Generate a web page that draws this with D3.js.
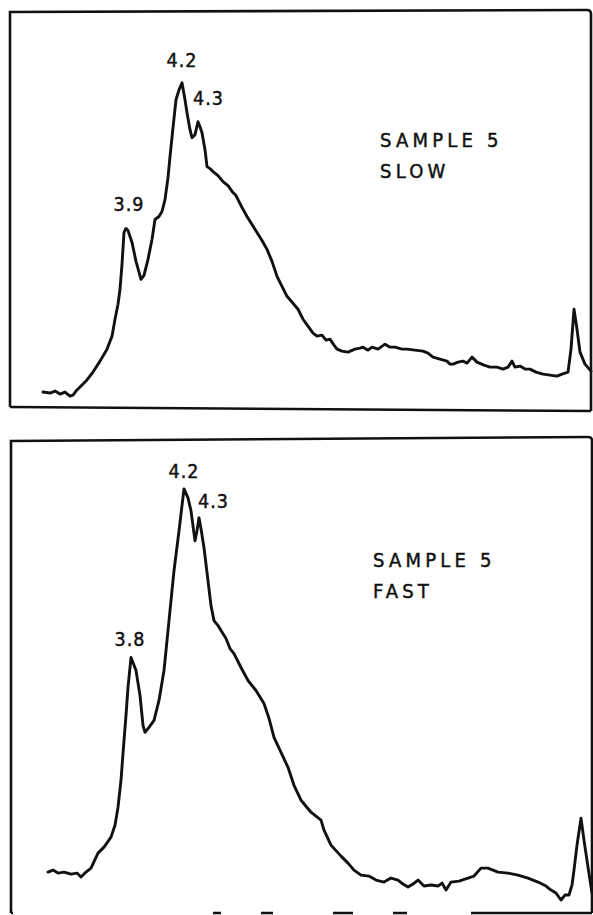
<!DOCTYPE html>
<html>
<head>
<meta charset="utf-8">
<script src="https://cdn.jsdelivr.net/npm/d3@7"></script>
<style>
  html, body { margin: 0; padding: 0; background: #fff; }
  svg { display: block; }
  text { font-family: "DejaVu Sans Condensed", "DejaVu Sans", sans-serif; fill: #111; stroke: #111; stroke-width: 0.45; }
</style>
</head>
<body>
<svg id="chart" width="593" height="915"></svg>
<script>
// ---- Data (chart-recorder readings: x = travel in cm, y = deflection in cm) ----
const slowX = [3.3,4.0,4.5,5.0,5.5,6.0,6.3,6.6,7.0,7.6,8.3,9.0,9.7,10.2,10.5,10.8,11.0,11.2,11.4,11.6,11.8,12.2,12.6,13.1,13.4,13.8,14.2,14.5,14.9,15.2,15.5,15.8,16.0,16.3,16.6,16.9,17.2,17.5,17.7,18.0,18.2,18.5,18.8,19.0,19.2,19.5,19.7,20.0,20.3,20.8,21.3,21.8,22.3,22.6,22.8,23.2,23.7,24.2,24.7,25.2,25.7,26.2,26.7,27.2,27.7,28.3,28.8,29.3,29.8,30.3,30.7,31.2,31.6,32.0,32.4,32.7,33.2,33.8,34.5,35.0,35.3,35.8,36.2,36.8,37.5,38.0,38.5,39.2,39.7,40.5,41.3,41.8,42.3,43.0,43.7,44.0,44.3,44.8,45.3,45.7,46.2,46.7,47.4,48.0,48.7,49.3,49.8,50.2,50.5,51.0,51.5,52.0,52.6,53.3,54.0,54.7,55.2,55.8,56.1,56.4,56.7,57.0,57.5,58.1];
const slowY = [1.5,1.4,1.6,1.3,1.5,1.1,1.2,1.6,2.0,2.6,3.5,4.6,5.8,7.1,8.8,10.3,11.8,14.3,17.5,17.9,17.7,16.5,14.6,12.8,13.2,14.8,16.8,18.8,19.1,19.6,20.8,23.0,25.1,28.0,30.8,31.8,32.5,30.8,29.5,27.8,27.0,27.3,28.6,28.1,27.5,25.8,24.1,23.9,23.6,23.2,22.6,22.2,21.5,21.2,20.8,20.0,19.1,18.3,17.5,16.7,15.8,14.6,13.1,12.1,11.1,10.4,9.8,8.8,8.1,7.4,7.1,7.2,6.7,6.8,6.2,5.8,5.6,5.5,5.8,5.9,6.0,5.7,6.0,5.8,6.3,6.0,6.0,5.8,5.8,5.7,5.6,5.4,5.0,4.8,4.6,4.3,4.3,4.5,4.6,4.4,5.0,4.5,4.2,4.0,4.0,3.8,4.0,4.6,4.0,4.1,3.8,3.8,3.5,3.3,3.2,3.1,3.3,3.5,5.8,9.8,7.8,5.5,4.3,3.6];

const fastX = [3.7,4.2,4.7,5.3,6.0,6.6,7.0,7.5,8.0,8.7,9.3,10.0,10.4,10.7,11.0,11.2,11.5,11.7,12.0,12.2,12.5,12.9,13.2,13.4,13.8,14.3,14.8,15.3,15.8,16.3,16.8,17.3,17.7,18.0,18.2,18.4,18.6,18.8,19.0,19.3,19.7,20.0,20.3,20.7,21.0,21.5,21.9,22.3,23.0,23.7,24.5,25.3,25.8,26.3,27.0,27.7,28.3,29.0,30.0,31.0,31.3,32.0,33.0,33.7,34.3,35.0,35.8,36.5,37.3,38.0,38.7,39.2,39.7,40.2,40.7,41.3,42.0,42.7,43.1,43.5,44.0,44.8,45.7,46.3,47.0,47.7,48.7,49.7,50.7,51.7,52.7,53.5,54.0,54.5,55.0,55.4,55.8,56.1,56.3,56.6,57.0,57.3,57.7,58.1];
const fastY = [4.1,4.3,4.0,4.1,3.9,4.0,3.6,4.1,4.5,6.0,6.6,7.6,8.8,10.6,13.3,16.0,19.8,22.6,25.6,25.1,24.3,21.8,18.8,18.1,18.6,19.3,21.3,24.3,29.3,34.3,38.3,42.5,41.6,40.3,38.8,37.3,38.3,39.6,38.5,36.6,33.3,30.8,29.3,28.8,28.3,27.5,26.5,26.0,24.6,23.3,22.3,21.0,19.5,17.6,16.1,14.6,12.8,11.3,10.1,9.3,8.3,6.8,5.7,5.0,4.3,3.8,3.7,3.3,3.1,3.5,3.3,2.9,2.6,2.9,3.3,2.7,2.8,2.7,3.0,2.3,3.1,3.2,3.5,3.7,4.5,4.5,4.1,4.0,3.8,3.5,3.1,2.7,2.3,2.0,1.3,1.8,1.8,2.8,4.3,6.8,9.5,7.3,4.6,2.0];

const slowPeaks = ["3.9", "4.2", "4.3"];
const slowPeakX = [11.6, 17.2, 18.8];
const fastPeaks = ["3.8", "4.2", "4.3"];
const fastPeakX = [12.0, 17.3, 18.8];

const slowTitle = ["SAMPLE 5", "SLOW"];
const fastTitle = ["SAMPLE 5", "FAST"];

// ---- Drawing ----
const svg = d3.select("#chart");

function panel(cfg) {
  const x = d3.scaleLinear().domain([0, 58.1]).range([cfg.left, cfg.right]);
  const y = d3.scaleLinear().domain([0, cfg.yMax]).range([cfg.bottom, cfg.top]);
  const g = svg.append("g");

  // frame
  g.append("path")
    .attr("d", `M${cfg.left},${cfg.bottom} L${cfg.left},${cfg.top} L${cfg.right - 4},${cfg.topR} Q${cfg.right},${cfg.topR} ${cfg.right},${cfg.topR + 4} L${cfg.right},${cfg.bottomR}`)
    .attr("fill", "none").attr("stroke", "#111").attr("stroke-width", 2.6);
  g.append("line")
    .attr("x1", cfg.bottomStart).attr("x2", cfg.right)
    .attr("y1", cfg.bottomLineL).attr("y2", cfg.bottomR)
    .attr("stroke", "#111").attr("stroke-width", 2.4)
    .attr("stroke-dasharray", cfg.bottomDash || null);

  const pts = cfg.xs.map((v, i) => [v, cfg.ys[i]]);
  const line = d3.line().x(d => x(d[0])).y(d => y(d[1])).curve(d3.curveLinear);
  g.append("path").datum(pts)
    .attr("d", line)
    .attr("fill", "none").attr("stroke", "#111")
    .attr("stroke-width", 2.9).attr("stroke-linejoin", "round").attr("stroke-linecap", "round");

  // peak labels
  cfg.peaks.forEach((lab, i) => {
    const px = cfg.peakX[i];
    const idx = d3.minIndex(cfg.xs, v => Math.abs(v - px));
    g.append("text")
      .attr("x", x(px) + cfg.labDx[i])
      .attr("y", y(cfg.ys[idx]) - cfg.labDy[i])
      .attr("text-anchor", cfg.labAnchor[i])
      .attr("font-size", 19.5)
      .attr("letter-spacing", 1)
      .text(lab);
  });

  // title
  cfg.title.forEach((t, i) => {
    g.append("text")
      .attr("x", cfg.titleX)
      .attr("y", cfg.titleY + i * 31)
      .attr("font-size", 20)
      .attr("letter-spacing", 4.2)
      .text(t);
  });
}

panel({
  left: 10, right: 591, top: 12, topR: 10, bottom: 407, bottomR: 411, bottomStart: 10, bottomLineL: 407,
  yMax: 39.6, xs: slowX, ys: slowY,
  peaks: slowPeaks, peakX: slowPeakX,
  labDx: [3, 0, -5], labDy: [17, 16, 17], labAnchor: ["middle", "middle", "start"],
  title: slowTitle, titleX: 380, titleY: 147
});

panel({
  left: 11, right: 592, top: 441, topR: 437, bottom: 913, bottomR: 913, bottomStart: 11, bottomLineL: 913,
  bottomDash: "2 200 8 40 12 60 20 40 14 64 400",
  yMax: 47.3, xs: fastX, ys: fastY,
  peaks: fastPeaks, peakX: fastPeakX,
  labDx: [-1, 0, -1], labDy: [12, 11, 10], labAnchor: ["middle", "middle", "start"],
  title: fastTitle, titleX: 373, titleY: 567
});
</script>
</body>
</html>
